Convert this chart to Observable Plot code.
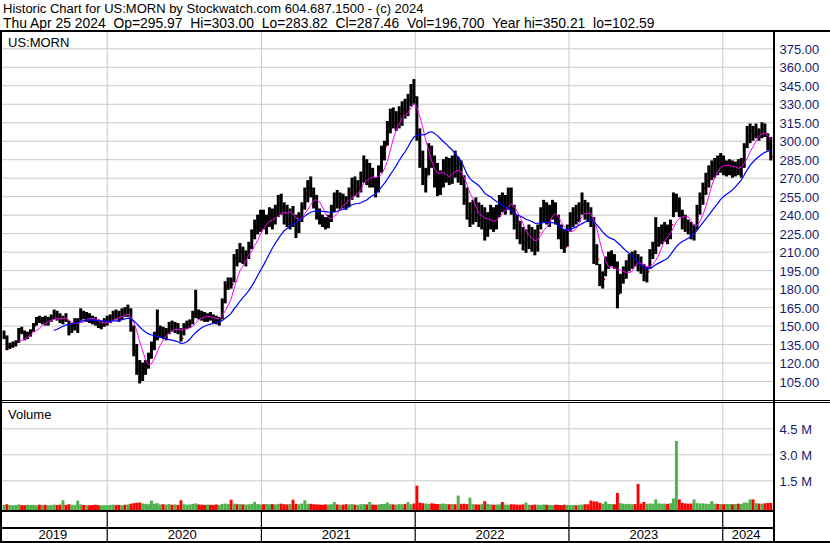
<!DOCTYPE html>
<html><head><meta charset="utf-8">
<script src="https://cdn.jsdelivr.net/npm/d3@7"></script>
<script src="https://cdn.jsdelivr.net/npm/@observablehq/plot@0.6"></script>
<style>
html,body{margin:0;padding:0;background:#fff;}
#chart{position:relative;width:830px;height:543px;overflow:hidden;font-family:"Liberation Sans",Arial,sans-serif;background:#fff;}
.ln{position:absolute;background:#000;}
.txt{position:absolute;white-space:pre;font-size:13px;color:#000;line-height:13px;}
.hdr2{font-size:13.9px;}
.plot{position:absolute;}
.plot svg{display:block;}
</style></head><body><div id="chart"></div>
<script>
// ---------- text ----------
const headerLines = [
  "Historic Chart for US:MORN by Stockwatch.com 604.687.1500 - (c) 2024",
  "Thu Apr 25 2024  Op=295.97  Hi=303.00  Lo=283.82  Cl=287.46  Vol=196,700  Year hi=350.21  lo=102.59"
];
const symbolLabel = "US:MORN";
const volumeLabel = "Volume";

// ---------- axis ticks ----------
const priceTicks = [105,120,135,150,165,180,195,210,225,240,255,270,285,300,315,330,345,360,375];
const volTicks = [1500, 3000, 4500]; // thousands of shares
const yearLabels = ["2019","2020","2021","2022","2023","2024"];

// ---------- weekly data (week of 2019-05-01 ... week of 2024-04-24) ----------
const highs = [
146,142,136,137,138,148,149,146,145,147,
152,157,158,157,158,157,159,163,162,160,
158,160,154,152,156,156,164,162,161,160,
158,157,155,154,156,158,159,162,163,162,
164,165,167,164,150,135,122,120,122,128,
137,145,163,150,149,148,153,154,153,152,
148,152,154,155,162,179,163,162,161,160,
161,159,158,157,172,186,189,189,208,212,
217,214,211,218,228,236,240,244,244,240,
246,245,248,256,257,250,248,245,247,240,
242,250,262,268,271,262,256,245,240,238,
240,248,258,260,258,257,255,262,270,271,
268,275,288,285,282,278,270,280,296,300,
316,326,327,324,328,332,334,338,346,350,
336,310,292,278,298,296,288,282,276,285,
287,286,288,292,287,284,272,262,250,252,
254,250,248,246,242,248,246,248,256,258,
256,262,262,248,240,235,230,228,232,230,
228,232,246,252,250,248,252,250,240,232,
228,232,242,246,248,250,258,252,250,246,
238,216,200,194,206,210,211,208,202,192,
198,203,208,210,211,208,206,200,198,212,
218,238,230,232,234,232,236,258,257,254,
244,240,236,234,232,248,258,266,274,280,
284,286,288,290,288,284,285,284,283,285,
286,298,312,314,312,314,310,315,314,306,
303];
const lows = [
139,130,131,132,133,136,143,138,139,141,
145,150,152,151,150,150,153,155,154,152,
151,153,142,144,146,144,154,155,153,152,
151,150,148,147,149,150,152,154,155,153,
155,157,157,145,125,110,103,105,110,115,
123,130,138,140,139,138,143,145,144,143,
137,142,147,148,151,156,155,154,153,153,
154,152,151,150,155,168,179,180,185,198,
201,200,198,204,212,220,224,226,228,224,
230,228,232,238,240,232,230,228,230,221,
225,234,244,250,254,245,236,232,230,228,
229,234,242,245,244,245,244,246,252,255,
254,258,266,264,262,262,254,258,274,284,
296,306,310,308,310,312,318,320,328,330,
300,278,264,258,272,278,262,255,256,262,
266,264,265,270,266,264,248,236,230,232,
234,230,228,219,222,228,226,228,238,242,
240,244,240,228,220,216,211,209,212,210,
207,210,228,234,232,230,236,232,220,212,
209,214,226,230,232,234,240,236,234,230,
200,199,182,180,190,196,198,196,164,176,
184,188,194,196,198,194,192,186,185,196,
204,208,214,216,218,216,220,238,242,238,
228,226,224,220,219,228,240,248,256,262,
268,270,272,274,272,271,272,270,271,272,
270,278,294,298,300,302,300,302,303,292,
284];
const closes = [
141,133,134,135,137,146,145,140,143,146,
150,155,154,155,152,155,157,160,157,154,
156,155,145,150,153,154,160,157,158,155,
153,152,150,151,154,155,157,160,158,156,
161,160,163,148,130,115,108,116,118,125,
134,140,144,146,143,145,150,148,151,146,
140,150,151,153,159,160,158,157,156,158,
157,155,154,156,170,182,185,184,205,203,
210,205,208,214,225,230,234,238,232,236,
240,235,244,248,246,240,236,242,235,228,
238,246,258,262,258,250,240,236,233,232,
236,245,252,250,254,250,248,258,264,260,
262,272,280,270,275,266,260,276,292,296,
312,320,315,318,322,326,324,333,340,336,
306,282,270,272,290,284,268,260,270,276,
280,272,282,272,276,270,252,237,240,245,
240,236,240,225,236,240,232,244,250,248,
252,255,245,232,226,222,218,220,224,218,
214,226,240,244,238,242,246,238,224,218,
214,228,238,240,236,244,248,242,240,236,
206,204,186,188,200,204,205,200,176,188,
194,198,204,206,202,200,196,190,194,208,
212,220,222,226,228,224,232,246,252,242,
234,230,228,226,228,244,254,262,268,276,
280,282,280,286,276,278,280,276,280,278,
282,296,304,308,305,306,304,310,306,298,
287.46];
const volumes = [ // typical daily volume per week, thousands
90,120,70,60,80,110,70,65,90,75,
80,60,95,70,85,60,75,100,80,90,
350,85,120,90,70,330,110,80,70,60,
75,90,65,55,70,60,80,95,70,85,
60,90,110,150,180,200,220,160,140,120,
330,150,180,110,120,100,130,90,110,80,
350,120,100,110,140,170,110,90,80,100,
90,80,110,85,140,160,130,380,150,120,
130,110,100,120,140,250,130,110,120,140,
120,130,110,140,150,120,110,130,380,140,
120,160,350,150,140,120,110,100,90,110,
100,120,250,110,90,100,120,110,130,100,
90,120,140,110,250,100,90,110,140,130,
220,120,110,100,130,120,140,240,120,160,
1190,200,180,160,140,170,150,130,140,160,
130,120,140,120,620,140,150,130,500,120,
110,100,120,300,140,110,90,100,110,250,
100,90,120,110,100,90,110,220,90,80,
100,90,80,110,90,80,70,90,80,70,
90,80,70,80,60,90,100,120,110,330,
280,280,200,150,280,140,130,120,770,180,
150,130,140,120,130,1290,160,250,140,160,
150,400,170,150,160,140,180,450,3770,400,
200,170,150,160,400,180,160,170,150,140,
300,150,140,130,120,140,130,120,130,150,
140,220,200,400,400,180,160,150,170,190,
196.7];

// ---------- build ----------
const firstWeek = new Date(Date.UTC(2019, 4, 1));
const rows = closes.map((c, i) => ({
  date: d3.utcDay.offset(firstWeek, 7 * i),
  high: highs[i], low: lows[i], close: c, volume: volumes[i],
  up: i === 0 || c >= closes[i - 1]
}));
const xStart = new Date(Date.UTC(2019, 3, 27, 10));
const xEnd = new Date(Date.UTC(2024, 3, 30, 12));
const yearStarts = yearLabels.slice(1).map(y => new Date(Date.UTC(+y, 0, 1)));
const bounds = [xStart, ...yearStarts, xEnd];
const yearMids = yearLabels.map((t, i) => ({
  text: t, date: new Date((+bounds[i] + +bounds[i + 1]) / 2)
}));

const svgStyle = {fontFamily: '"Liberation Sans", Arial, sans-serif', fontSize: "13px", background: "none", overflow: "visible"};
const xOpt = {type: "utc", domain: [xStart, xEnd], axis: null};
const grid = "#c8c8c8";

const pricePlot = Plot.plot({
  width: 828, height: 368,
  marginTop: 0, marginBottom: 0, marginLeft: 0, marginRight: 57,
  x: xOpt,
  y: {domain: [89.58, 388.23], axis: null, label: null},
  style: svgStyle,
  marks: [
    Plot.gridY(priceTicks, {stroke: grid, strokeOpacity: 1}),
    Plot.ruleX(yearStarts, {stroke: grid, strokeOpacity: 1}),
    Plot.dot(rows, {x: "date", y: "close", r: 1, fill: "#ff0000", dx: 1.7}),
    Plot.ruleX(rows, {x: "date", y1: "low", y2: "high", stroke: "#000", strokeWidth: 3}),
    Plot.lineY(rows, Plot.windowY({k: 6, anchor: "end", strict: true}, {x: "date", y: "close", stroke: "#ff00ff", strokeWidth: 1})),
    Plot.lineY(rows, Plot.windowY({k: 18, anchor: "end", strict: true}, {x: "date", y: "close", stroke: "#0000ff", strokeWidth: 1.2})),
    Plot.axisY(priceTicks, {anchor: "right", tickSize: 0, tickPadding: 6, label: null,
      tickFormat: d => d.toFixed(2), color: "#1a1a6e", fontSize: 13, dy: 1})
  ]
});

const volPlot = Plot.plot({
  width: 828, height: 107,
  marginTop: 0, marginBottom: 0, marginLeft: 0, marginRight: 57,
  x: xOpt,
  y: {domain: [-213, 5960], axis: null, label: null},
  style: svgStyle,
  marks: [
    Plot.gridY(volTicks, {stroke: grid, strokeOpacity: 1}),
    Plot.ruleX(yearStarts, {stroke: grid, strokeOpacity: 1}),
    Plot.ruleX(rows, {x: "date", y1: -213, y2: "volume", stroke: d => d.up ? "#4cb04c" : "#ff0000", strokeWidth: 2.9}),
    Plot.axisY(volTicks, {anchor: "right", tickSize: 0, tickPadding: 6, label: null,
      tickFormat: d => (d / 1000).toFixed(1) + " M", color: "#1a1a6e", fontSize: 13, dy: 1})
  ]
});

const stripPlot = Plot.plot({
  width: 771, height: 29,
  marginTop: 0, marginBottom: 0, marginLeft: 0, marginRight: 0,
  x: xOpt,
  y: {domain: [0, 29], axis: null},
  style: svgStyle,
  marks: [
    Plot.ruleX(yearStarts, {stroke: "#000", strokeWidth: 1.2}),
    Plot.text(yearMids, {x: "date", y: 7, text: "text", fontSize: 13, fill: "#000", dx: -2})
  ]
});

// ---------- assemble ----------
const chart = document.getElementById("chart");
function place(node, left, top) {
  const w = document.createElement("div");
  w.className = "plot"; w.style.left = left + "px"; w.style.top = top + "px";
  w.appendChild(node); chart.appendChild(w);
}
function line(left, top, w, h) {
  const d = document.createElement("div");
  d.className = "ln";
  Object.assign(d.style, {left: left + "px", top: top + "px", width: w + "px", height: h + "px"});
  chart.appendChild(d);
}
function text(t, left, top, cls) {
  const d = document.createElement("div");
  d.className = "txt" + (cls ? " " + cls : ""); d.textContent = t;
  d.style.left = left + "px"; d.style.top = top + "px";
  chart.appendChild(d);
}
place(pricePlot, 2, 32);
place(volPlot, 2, 403);
place(stripPlot, 2, 512);

text(headerLines[0], 3, 1.5);
text(headerLines[1], 3, 17, "hdr2");
text(symbolLabel, 8, 36);
text(volumeLabel, 8, 408);

line(0, 30, 830, 2);      // top frame
line(0, 30, 2, 513);      // left frame
line(773, 30, 2, 513);    // axis divider
line(0, 400, 830, 1);     // double separator
line(0, 402, 830, 1);
line(0, 510, 775, 2);     // volume bottom
line(0, 527, 775, 2);     // strip separator
line(0, 541, 830, 2);     // bottom frame
</script></body></html>
